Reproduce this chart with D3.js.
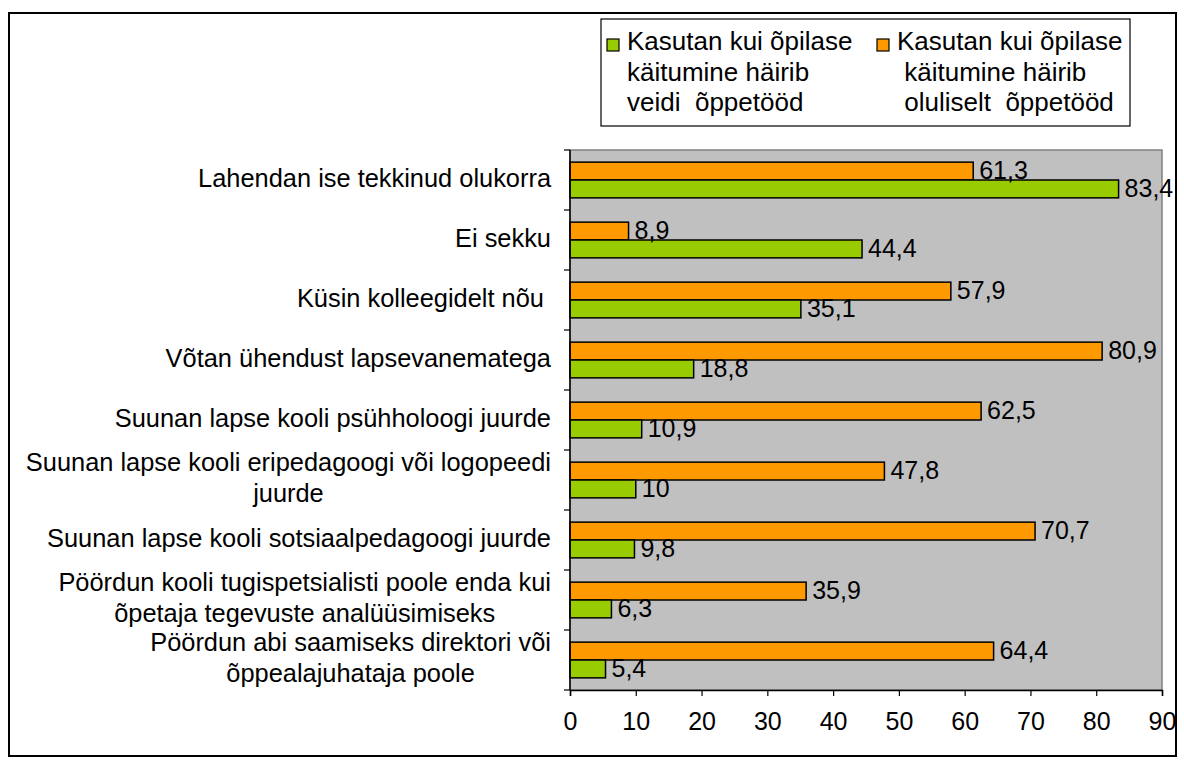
<!DOCTYPE html>
<html>
<head>
<meta charset="utf-8">
<script src="https://cdn.jsdelivr.net/npm/d3@7"></script>
<style>
    body { margin: 0; background: #fff; }
    svg text { font-family: Arial, "Liberation Sans", sans-serif; fill: #000; }
</style>
</head>
<body>
<div id="chart"></div>
<script>
//Datos
const categorias = [
    'Lahendan ise tekkinud olukorra',
    'Ei sekku',
    'Küsin kolleegidelt nõu ',
    'Võtan ühendust lapsevanematega',
    'Suunan lapse kooli psühholoogi juurde',
    'Suunan lapse kooli eripedagoogi või logopeedi\njuurde',
    'Suunan lapse kooli sotsiaalpedagoogi juurde',
    'Pöördun kooli tugispetsialisti poole enda kui\nõpetaja tegevuste analüüsimiseks',
    'Pöördun abi saamiseks direktori või\nõppealajuhataja poole'
];
const veidi = [83.4, 44.4, 35.1, 18.8, 10.9, 10, 9.8, 6.3, 5.4];
const oluliselt = [61.3, 8.9, 57.9, 80.9, 62.5, 47.8, 70.7, 35.9, 64.4];
const xTicks = [0, 10, 20, 30, 40, 50, 60, 70, 80, 90];
const series = ['oluliselt', 'veidi'];
const legendLines = {
    veidi: ['Kasutan kui õpilase', 'käitumine häirib', 'veidi  õppetööd'],
    oluliselt: ['Kasutan kui õpilase', ' käitumine häirib', ' oluliselt  õppetööd']
};

//Colores fijos
const COLOR_GREEN = '#99CC00',
COLOR_ORANGE = '#FF9900',
COLOR_PLOT = '#C0C0C0';
const FONT = '25px', FONT_CAT = '25.4px';

let data = categorias.map(function(c, i) {
    return { cat: c, veidi: veidi[i], oluliselt: oluliselt[i] };
});

let W = 1184, H = 763;
let margin = {top: 150, right: 22, bottom: 73, left: 570},
    width = W - margin.left - margin.right,
    height = H - margin.top - margin.bottom;

let root = d3.select('#chart')
    .append('svg')
    .attr('width', W)
    .attr('height', H);

//Marco exterior
root.append('rect')
    .attr('x', 9).attr('y', 13)
    .attr('width', 1167).attr('height', 743)
    .attr('fill', 'none')
    .attr('stroke', '#000')
    .attr('stroke-width', 2);

let svg = root.append('g')
    .attr('transform', 'translate(' + margin.left + ',' + margin.top + ')');

let x = d3.scaleLinear()
    .domain([0, 90])
    .range([0, width]);

let y = d3.scaleBand()
    .domain(categorias)
    .range([0, height])
    .padding(0);

let ySub = d3.scaleBand()
    .domain(series)
    .range([0, y.bandwidth()])
    .paddingInner(0)
    .paddingOuter(0.68);

let color = d3.scaleOrdinal()
    .domain(series)
    .range([COLOR_ORANGE, COLOR_GREEN]);

//Fondo
svg.append('rect')
    .attr('x', 0).attr('y', 0)
    .attr('width', width).attr('height', height)
    .attr('fill', COLOR_PLOT)
    .attr('stroke', '#808080')
    .attr('stroke-width', 1.5);

//Barras
let grupos = svg.append('g')
    .selectAll('g')
    .data(data)
    .enter()
    .append('g')
    .attr('transform', function(d) { return 'translate(0,' + y(d.cat) + ')'; });

grupos.selectAll('rect')
    .data(function(d) { return series.map(function(key) { return {key: key, value: d[key]}; }); })
    .enter()
    .append('rect')
    .attr('x', x(0))
    .attr('y', function(d) { return ySub(d.key); })
    .attr('width', function(d) { return x(d.value) - x(0); })
    .attr('height', ySub.bandwidth())
    .attr('fill', function(d) { return color(d.key); })
    .attr('stroke', '#000')
    .attr('stroke-width', 1.5);

grupos.selectAll('text')
    .data(function(d) { return series.map(function(key) { return {key: key, value: d[key]}; }); })
    .enter()
    .append('text')
    .attr('x', function(d) { return x(d.value) + 6; })
    .attr('y', function(d) { return ySub(d.key) + ySub.bandwidth() / 2 - 1; })
    .attr('dy', '0.35em')
    .style('font-size', FONT)
    .text(function(d) { return String(d.value).replace('.', ','); });

//Eje Y
svg.append('line')
    .attr('x1', 0).attr('x2', 0)
    .attr('y1', 0).attr('y2', height)
    .attr('stroke', '#000').attr('stroke-width', 1.5);

svg.append('g')
    .selectAll('line')
    .data(d3.range(categorias.length + 1))
    .enter()
    .append('line')
    .attr('x1', -6).attr('x2', 0)
    .attr('y1', function(i) { return i * y.step(); })
    .attr('y2', function(i) { return i * y.step(); })
    .attr('stroke', '#000').attr('stroke-width', 1.2);

//Etiquetas de categoría
let etiquetas = svg.append('g')
    .selectAll('g')
    .data(data)
    .enter()
    .append('g')
    .attr('transform', function(d) { return 'translate(-19,' + (y(d.cat) + y.bandwidth() / 2 - 2) + ')'; });

etiquetas.each(function(d) {
    let g = d3.select(this);
    let lines = d.cat.split('\n');
    let lh = 31;
    let y0 = -(lines.length - 1) * lh / 2;
    let first = g.append('text')
        .attr('x', 0)
        .attr('y', y0)
        .attr('dy', '0.35em')
        .attr('text-anchor', 'end')
        .style('font-size', FONT_CAT)
        .style('white-space', 'pre')
        .text(lines[0]);
    let w = first.node().getComputedTextLength();
    for (let i = 1; i < lines.length; i++) {
        g.append('text')
            .attr('x', -w / 2)
            .attr('y', y0 + i * lh)
            .attr('dy', '0.35em')
            .attr('text-anchor', 'middle')
            .style('font-size', FONT_CAT)
            .text(lines[i]);
    }
});

//Eje X
let xAxis = function(g) {
    g.call(d3.axisBottom(x).tickValues(xTicks).tickSize(6).tickPadding(16).tickFormat(d3.format('d')));
    g.call(function(g) { g.select('.domain').attr('stroke', '#000').attr('stroke-width', 1.5); });
    g.call(function(g) { g.selectAll('.tick line').attr('stroke', '#000').attr('stroke-width', 1.2); });
    g.call(function(g) { g.selectAll('.tick text').style('font-size', FONT).style('font-family', 'Arial, "Liberation Sans", sans-serif'); });
}

svg.append('g')
    .attr('transform', 'translate(0,' + height + ')')
    .call(xAxis);

//Leyenda
let legend = root.append('g');
legend.append('rect')
    .attr('x', 601).attr('y', 19)
    .attr('width', 529).attr('height', 107)
    .attr('fill', '#fff')
    .attr('stroke', '#000')
    .attr('stroke-width', 1.2);

let legendItems = [
    {key: 'veidi', x: 607},
    {key: 'oluliselt', x: 877}
];

legendItems.forEach(function(item) {
    legend.append('rect')
        .attr('x', item.x).attr('y', 39)
        .attr('width', 12).attr('height', 12)
        .attr('fill', color(item.key))
        .attr('stroke', '#000')
        .attr('stroke-width', 1.2);
    legendLines[item.key].forEach(function(t, i) {
        legend.append('text')
            .attr('x', item.x + 20)
            .attr('y', 41 + i * 30.5)
            .attr('dy', '0.35em')
            .style('font-size', '26px')
            .style('white-space', 'pre')
            .text(t);
    });
});
</script>
</body>
</html>
